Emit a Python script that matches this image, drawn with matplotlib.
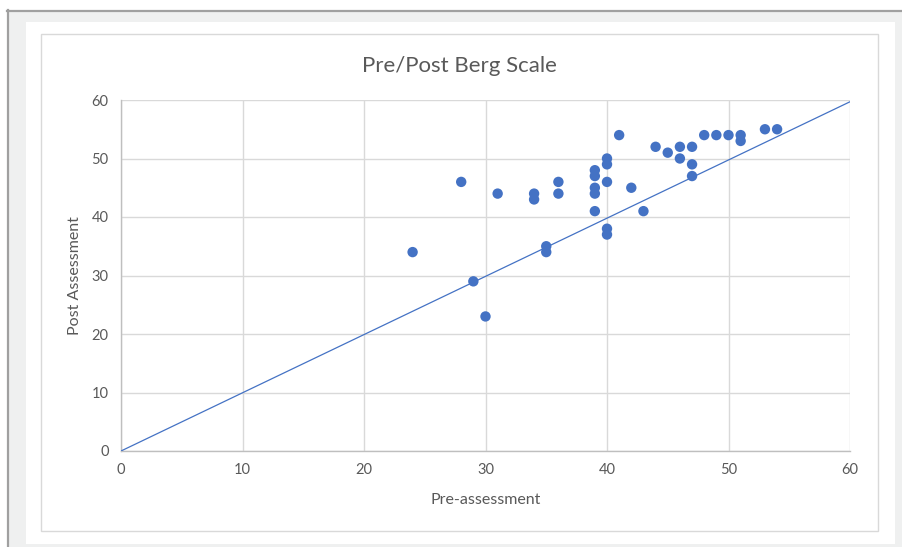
import matplotlib.pyplot as plt
from matplotlib.patches import Rectangle
from matplotlib.lines import Line2D

# Donnees (pre / post Berg)
pre = [24, 28, 29, 30, 31, 34, 34, 35, 35, 36, 36,
       39, 39, 39, 39, 39, 40, 40, 40, 40, 40,
       41, 42, 43, 44, 45, 46, 46, 47, 47, 47,
       48, 49, 50, 51, 51, 53, 54]
post = [34, 46, 29, 23, 44, 44, 43, 35, 34, 46, 44,
        48, 47, 45, 44, 41, 50, 49, 46, 38, 37,
        54, 45, 41, 52, 51, 52, 50, 52, 49, 47,
        54, 54, 54, 54, 53, 55, 55]

# ligne de reference
ref_x = [0, 60]
ref_y = [0, 59.7]

xticks = [0, 10, 20, 30, 40, 50, 60]
yticks = [0, 10, 20, 30, 40, 50, 60]

W, H = 902, 547
blue = '#4472c4'
txt = '#595959'
plt.rcParams['font.family'] = ['Lato', 'DejaVu Sans']

fig = plt.figure(figsize=(W / 100, H / 100), dpi=100, facecolor='white')

# Cadre exterieur gris clair + bords fonces
fig.patches.append(Rectangle((7 / W, 0), (W - 7) / W, (H - 10) / H, transform=fig.transFigure,
                             facecolor='#eff0f0', edgecolor='none', zorder=0))
fig.add_artist(Line2D([7 / W, 1], [(H - 11) / H, (H - 11) / H], transform=fig.transFigure,
                      color='#a0a0a0', lw=1.6, zorder=1))
fig.add_artist(Line2D([8 / W, 8 / W], [0, (H - 10) / H], transform=fig.transFigure,
                      color='#a0a0a0', lw=1.6, zorder=1))
# panneau blanc
fig.patches.append(Rectangle((26 / W, 3 / H), 869 / W, 522 / H, transform=fig.transFigure,
                             facecolor='white', edgecolor='none', zorder=1))
# bordure de la zone du graphique
fig.patches.append(Rectangle((41 / W, 16 / H), 837 / W, 497 / H, transform=fig.transFigure,
                             facecolor='white', edgecolor='#d9d9d9', lw=1, zorder=2))

ax = fig.add_axes([121 / W, 1 - 451 / H, 729 / W, 351 / H])
ax.set_zorder(3)
ax.set_facecolor('none')

ax.plot(ref_x, ref_y, color=blue, lw=0.9, zorder=3)
ax.scatter(pre, post, s=56, color=blue, edgecolors='none', zorder=4)

ax.set_xlim(0, 60)
ax.set_ylim(0, 60)
ax.set_xticks(xticks)
ax.set_yticks(yticks)
ax.grid(True, color='#d9d9d9', lw=1)
ax.set_axisbelow(True)
for s in ['top', 'right']:
    ax.spines[s].set_visible(False)
for s in ['left', 'bottom']:
    ax.spines[s].set_color('#bfbfbf')
    ax.spines[s].set_linewidth(1)
ax.tick_params(length=0, labelsize=10.5, labelcolor=txt)
ax.tick_params(axis='y', pad=9)
ax.tick_params(axis='x', pad=9)

ax.set_xlabel('Pre-assessment', fontsize=11.5, color=txt, labelpad=11)
ax.set_ylabel('Post Assessment', fontsize=11.5, color=txt, labelpad=7)
fig.text(459 / W, 1 - 66 / H, 'Pre/Post Berg Scale', ha='center', va='center',
         fontsize=16, color=txt)

fig.savefig('out.png', dpi=100, facecolor='white')
